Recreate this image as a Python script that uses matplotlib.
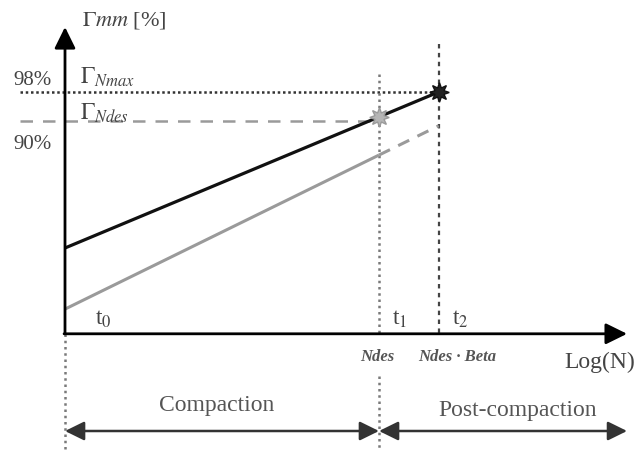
import matplotlib
matplotlib.use("Agg")
import matplotlib.pyplot as plt

plt.rcParams['font.family'] = ['Liberation Serif', 'DejaVu Serif']
plt.rcParams['mathtext.fontset'] = 'stix'

# ---- schematic data (x: normalised log(N), y: Gamma mm in %) ----
axis_base = 60.8            # level of the horizontal axis
gamma_nmax = 98.0
gamma_ndes = 93.5
x_t0 = 0.0
x_ndes = 1.0
x_ndes_beta = 1.19
x_axis_end = 1.79
y_axis_end = 108.0

black_x = [0.0, 1.19]
black_y = [74.0, 98.0]
gray_solid_x = [0.0, 1.0]
gray_solid_y = [64.6, 88.3]
gray_dash_x = [1.0, 1.19]
gray_dash_y = [88.3, 92.8]
star_ndes = (1.0, 94.2)
star_nmax = (1.19, 98.0)

pct_labels = ["98%", "90%"]
tick_labels = ["Ndes", "Ndes · Beta"]
t_labels = [r"t$_0$", r"t$_1$", r"t$_2$"]
phase_labels = ["Compaction", "Post-compaction"]

# ---- pixel -> data helpers (layout only) ----
def px(p):
    return (p - 65) / 314.0

def py(p):
    return 98.0 - (p - 93) * 8.0 / 52.0

fig = plt.figure(figsize=(6.35, 4.52), dpi=100)
ax = fig.add_axes([0, 0, 1, 1])
ax.set_xlim(px(0), px(635))
ax.set_ylim(py(452), py(0))
ax.axis('off')

txt = '#444444'

# reference lines
ax.plot([px(20), x_ndes_beta], [gamma_nmax, gamma_nmax], color='#333333',
        lw=1.8, linestyle=(0, (1, 1.1)))
ax.plot([px(20), x_ndes], [gamma_ndes, gamma_ndes], color='#9a9a9a',
        lw=1.8, linestyle=(0, (5, 4)))
ax.plot([x_ndes, x_ndes], [py(75), axis_base], color='#7a7a7a', lw=1.8,
        linestyle=(0, (1, 1.5)))
ax.plot([x_ndes, x_ndes], [py(377), py(452)], color='#7a7a7a', lw=1.8,
        linestyle=(0, (1, 1.5)))
ax.plot([x_t0, x_t0], [axis_base, py(452)], color='#7a7a7a', lw=1.8,
        linestyle=(0, (1, 1.5)))
ax.plot([x_ndes_beta, x_ndes_beta], [py(45), axis_base], color='#444444',
        lw=1.6, linestyle=(0, (2, 2)))

# compaction curves
ax.plot(gray_solid_x, gray_solid_y, color='#9a9a9a', lw=2.2, solid_capstyle='butt')
ax.plot(gray_dash_x, gray_dash_y, color='#9a9a9a', lw=2.2, linestyle=(0, (4, 3)))
ax.plot(black_x, black_y, color='#111111', lw=2.3, solid_capstyle='butt')

ax.plot([star_ndes[0]], [star_ndes[1]], marker=(8, 1, 0), ms=14,
        color='#b5b5b5', mec='#9a9a9a', zorder=5)
ax.plot([star_nmax[0]], [star_nmax[1]], marker=(8, 1, 0), ms=14,
        color='#222222', mec='#111111', zorder=5)

# axes arrows
arrow = dict(arrowstyle='-|>,head_length=0.65,head_width=0.32', lw=2.0,
             color='black', shrinkA=0, shrinkB=0, mutation_scale=20)
ax.annotate('', xy=(x_t0, y_axis_end), xytext=(x_t0, axis_base), arrowprops=arrow)
ax.annotate('', xy=(x_axis_end, axis_base), xytext=(x_t0 - 0.003, axis_base),
            arrowprops=arrow)

# phase arrows
parrow = dict(arrowstyle='<|-|>,head_length=0.65,head_width=0.32', lw=1.8,
              color='#333333', shrinkA=0, shrinkB=0, mutation_scale=18)
ya = py(432)
ax.annotate('', xy=(x_ndes, ya), xytext=(x_t0, ya), arrowprops=parrow)
ax.annotate('', xy=(x_axis_end, ya), xytext=(x_ndes, ya), arrowprops=parrow)

# texts
ax.text(px(82), py(20), r'$\Gamma mm$ [%]', fontsize=16, color=txt,
        ha='left', va='center')
ax.text(px(32), py(80), pct_labels[0], fontsize=15, color=txt, ha='center', va='center')
ax.text(px(32), py(145), pct_labels[1], fontsize=15, color=txt, ha='center', va='center')
ax.text(px(80), py(84), r'$\Gamma_{Nmax}$', fontsize=17, color=txt,
        ha='left', va='baseline')
ax.text(px(80), py(120), r'$\Gamma_{Ndes}$', fontsize=17, color=txt,
        ha='left', va='baseline')

for lab, xx in zip(t_labels, [px(103), px(400), px(460)]):
    ax.text(xx, py(319), lab, fontsize=17, color=txt, ha='center', va='center')

ax.text(px(377), py(357), tick_labels[0], fontsize=12, style='italic',
        fontweight='bold', color='#555555', ha='center', va='center')
ax.text(px(457), py(357), tick_labels[1], fontsize=12, style='italic',
        fontweight='bold', color='#555555', ha='center', va='center')
ax.text(px(635), py(362), 'Log(N)', fontsize=17, color=txt, ha='right', va='center')

ax.text(px(217), py(406), phase_labels[0], fontsize=17, color='#555555',
        ha='center', va='center')
ax.text(px(518), py(411), phase_labels[1], fontsize=17, color='#555555',
        ha='center', va='center')

fig.savefig('out.png', dpi=100)
